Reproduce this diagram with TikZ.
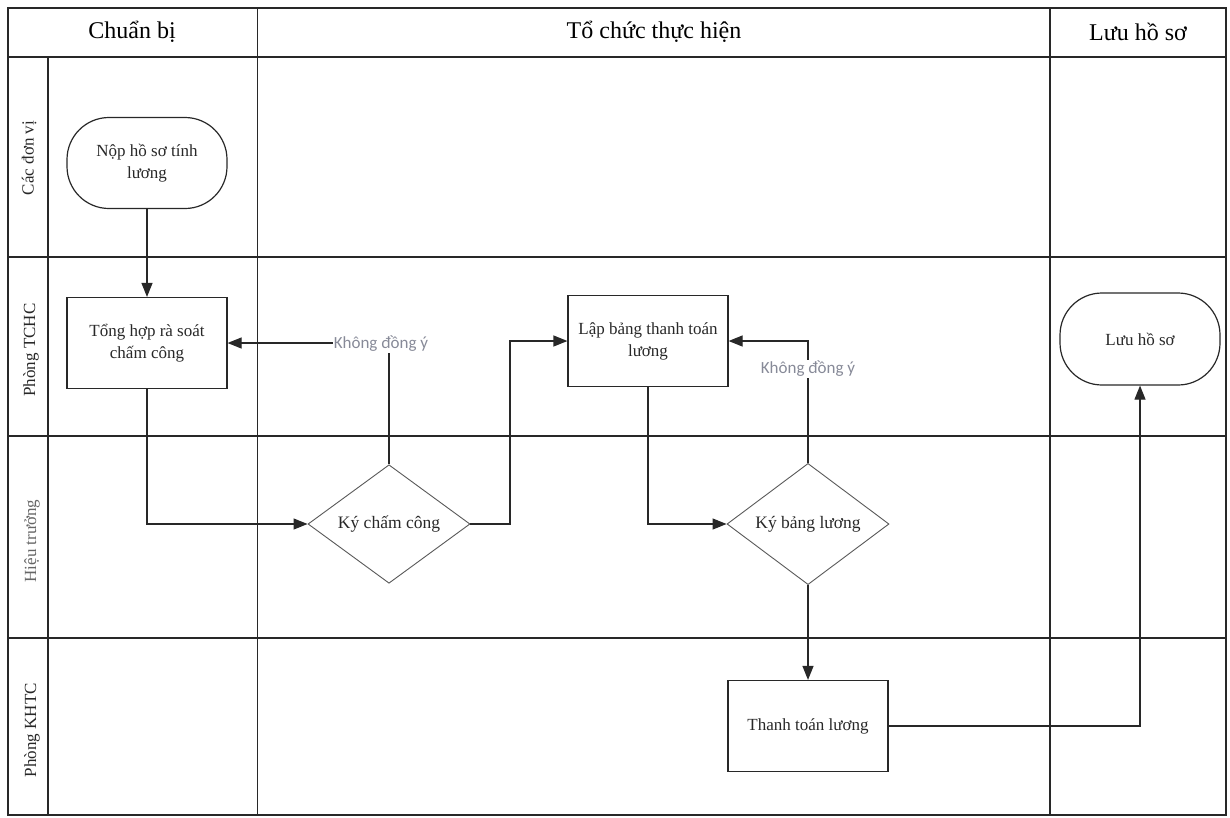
\documentclass[tikz,border=0pt]{standalone}
\usepackage{fontspec}
\setmainfont{Liberation Serif}
\newfontfamily\lblfont{Carlito}
\usetikzlibrary{shapes.geometric,arrows.meta}
\definecolor{lbl}{RGB}{135,138,152}
\definecolor{ink}{RGB}{40,40,40}
\begin{document}
\begin{tikzpicture}[x=1pt,y=-1pt,
  gridline/.style={line width=1.2pt, draw=ink},
  proc/.style={draw=ink, line width=1.2pt, minimum width=160pt, minimum height=91pt,
    align=center, inner sep=2pt, font=\fontsize{17}{22}\selectfont, text=ink},
  term/.style={proc, rounded corners=42pt},
  dec/.style={diamond, draw=black!65, line width=0.9pt, minimum width=162pt,
    minimum height=92pt, inner sep=0pt, font=\fontsize{17.5}{22}\selectfont, text=ink},
  flow/.style={line width=1.2pt, draw=ink, -{Triangle[length=14pt,width=11pt]}},
  nolbl/.style={font=\lblfont\fontsize{17}{20}\selectfont, text=lbl, fill=white, inner sep=1pt},
  hdr/.style={font=\fontsize{24}{28}\selectfont, text=black},
  lane/.style={rotate=90, font=\fontsize{17}{20}\selectfont, text=ink}]
\useasboundingbox[fill=white] (0,0) rectangle (1230,817);
% grid
\draw[gridline] (8,8) rectangle (1226,815);
\draw[gridline] (8,57) -- (1226,57);
\draw[gridline] (8,257) -- (1226,257);
\draw[gridline] (8,436) -- (1226,436);
\draw[gridline] (8,638) -- (1226,638);
\draw[gridline] (48,57) -- (48,815);
\draw[gridline, line width=0.9pt] (257,8) -- (257,815);
\draw[gridline] (1050,8) -- (1050,815);
% headers
\node[hdr] (h1) at (132,32) {Chuẩn bị};
\node[hdr] (h2) at (654,32) {Tổ chức thực hiện};
\node[hdr] (h3) at (1138,32) {Lưu hồ sơ};
% lanes
\node[lane] (l1) at (29,158) {Các đơn vị};
\node[lane] (l2) at (31,350) {Phòng TCHC};
\node[lane, text=black!60] (l3) at (32,541) {Hiệu trưởng};
\node[lane] (l4) at (32,730) {Phòng KHTC};
% nodes
\node[term] (nop) at (147,163) {Nộp hồ sơ tính\\lương};
\node[proc] (tonghop) at (147,343) {Tổng hợp rà soát\\chấm công};
\node[dec] (kcc) at (389,524) {Ký chấm công};
\node[proc] (lap) at (648,341) {Lập bảng thanh toán\\lương};
\node[dec] (kbl) at (808,524) {Ký bảng lương};
\node[proc] (tt) at (808,726) {Thanh toán lương};
\node[term, minimum height=92pt] (luu) at (1140,339) {Lưu hồ sơ};
\coordinate (j1) at (510,524);
% connectors
\draw[flow] (nop) -- (tonghop);
\draw[flow] (tonghop.south) |- (kcc.west);
\draw[flow] (kcc.north) |- (tonghop.east);
\node[nolbl] (n1) at (381,344) {Không đồng ý};
\draw[flow] (kcc.east) -- (j1) |- (lap.west);
\draw[flow] (lap.south) |- (kbl.west);
\draw[flow] (kbl.north) |- (lap.east);
\node[nolbl] (n2) at (808,369) {Không đồng ý};
\draw[flow] (kbl.south) -- (tt.north);
\draw[flow] (tt.east) -| (luu.south);
\end{tikzpicture}
\end{document}
